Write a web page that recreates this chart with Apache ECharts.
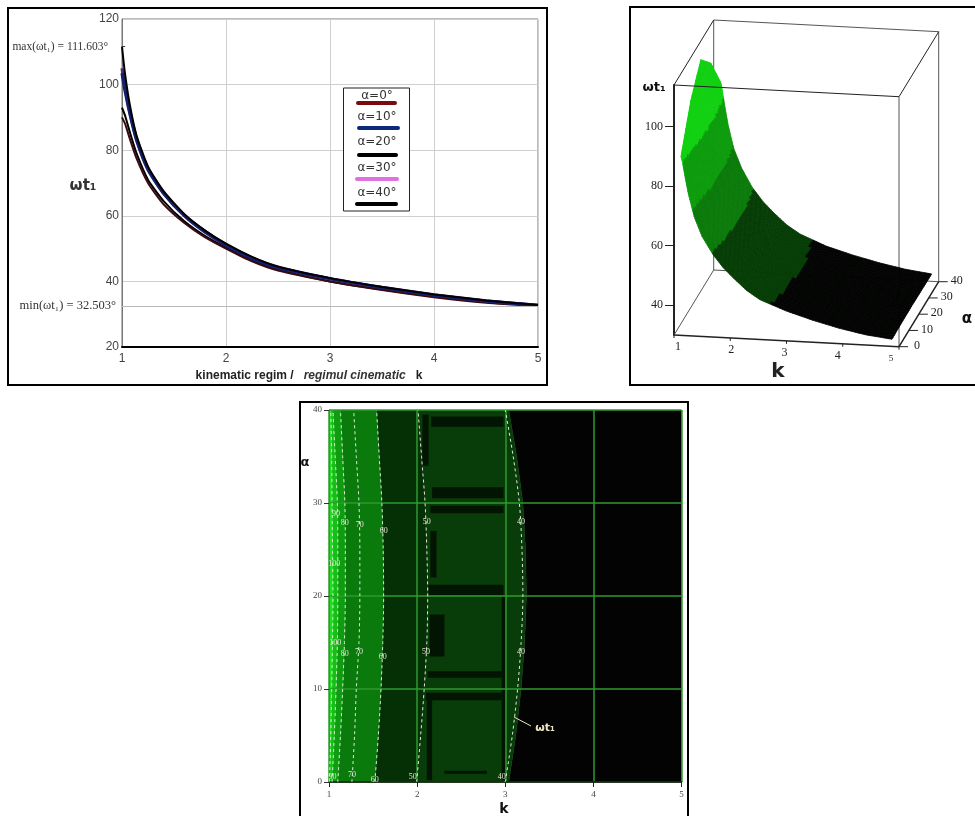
<!DOCTYPE html>
<html><head><meta charset="utf-8">
<style>html,body{margin:0;padding:0;background:#fff}#c{width:975px;height:816px}</style>
<script src="https://cdn.jsdelivr.net/npm/echarts@6/dist/echarts.min.js"></script>
</head><body><div id="c"></div>
<script>
// ---- data ----
const kValues  = [1,1.03,1.08,1.14,1.25,1.4,1.6,1.8,2,2.25,2.5,3,3.5,4,4.5,5];
const alpha0   = [90,88,83,77.5,70,63.5,57.8,53.4,50,46.1,43.3,40,37.4,35.2,33.5,32.5];
const alpha10  = [103.5,98,90.5,83,74,66.8,60,55,51,47,44.2,40.8,38.1,35.8,34,32.7];
const alpha20  = [111.6,103,93,84.5,75,67.5,60.5,55.5,51.5,47.5,44.5,41,38.3,36,34.2,32.8];
const alpha30  = [105,99,91,83.5,74.5,67,60.2,55.2,51.2,47.2,44.4,40.9,38.2,35.9,34.1,32.7];
const alpha40  = [93,90.5,85,79,71,64.5,58.3,53.8,50.3,46.4,43.6,40,37.5,35.4,33.7,32.6];
const curveNames  = ['α=0°','α=10°','α=20°','α=30°','α=40°'];
const curveColors = ['#7a0a10','#0c2a78','#000000','#e070e0','#000000'];
const maxValue = 111.603, minValue = 32.503;
const kTicks3d = [1,2,3,4,5], alphaTicks3d = [0,10,20,30,40], omegaTicks3d = [40,60,80,100];

const contourAlpha = [0,5,10,15,20,25,30,35,40];
const contour40  = [3.0,3.08,3.14,3.18,3.2,3.19,3.16,3.09,3.0];
const contour50  = [1.995,2.04,2.08,2.11,2.12,2.11,2.09,2.05,2.01];
const contour60  = [1.52,1.56,1.59,1.61,1.62,1.615,1.6,1.57,1.54];
const contour70  = [1.26,1.29,1.31,1.34,1.35,1.35,1.34,1.31,1.28];
const contour80  = [1.1,1.13,1.155,1.175,1.185,1.185,1.18,1.155,1.13];
const contour90  = [1.035,1.06,1.08,1.095,1.1,1.1,1.095,1.07,1.045];
const contour100 = [1.005,1.02,1.03,1.04,1.045,1.04,1.035,1.03,1.02];
const contourLabels = [
 [1.08,28.8,'90'],[1.18,27.9,'80'],[1.35,27.6,'70'],[1.62,27,'60'],[2.11,28,'50'],[3.18,28,'40'],
 [1.06,23.5,'100'],[1.07,15,'100'],[1.18,13.8,'80'],[1.34,14,'70'],[1.61,13.5,'60'],[2.1,14,'50'],[3.18,14,'40'],
 [1.04,0.6,'90'],[1.26,0.8,'70'],[1.52,0.2,'60'],[1.95,0.6,'50'],[2.96,0.6,'40']
];
const darkPatches = [
 [2.16,2.98,38.2,39.3],[2.17,2.98,30.5,31.7],[2.15,2.98,28.9,29.7],[2.13,2.98,20.1,21.2],
 [2.14,2.31,13.5,18],[2.12,2.96,11.2,11.9],[2.1,2.96,8.8,9.6],[2.31,2.79,0.9,1.2],
 [2.11,2.17,0.2,8.8],[2.06,2.13,34,39.5],[2.15,2.22,22,27],[2.96,3.0,0.2,20]
];

// ---- styles ----
const SANS='Liberation Sans', SERIF='Liberation Serif', DJ='DejaVu Sans';
const F=(s,fam)=>s+' "'+fam+'"';
function bandColor3d(w){ return w>88?'#12d012':w>72?'#0c9c0c':w>58?'#0a7a0a':w>42?'#053c05':'#020402'; }
const bandList = [
 {l:contour40,r:null,c:'#020302'},
 {l:contour50,r:contour40,c:'#083c08'},
 {l:contour60,r:contour50,c:'#053005'},
 {l:contour80,r:contour60,c:'#0a7a0c'},
 {l:contour90,r:contour80,c:'#0f9c10'},
 {l:contour100,r:contour90,c:'#16bf16'},
 {l:null,r:contour100,c:'#22dc22'}
];

function pBox(api,k,a,w){
  const c=api.coord([k,w]), t=a/40;
  return [c[0]+t*39.7, c[1]+(k-1)*2.925-t*65];
}
function pSurf(api,k,a,w){
  const p=pBox(api,k,a,w);
  return [p[0]+7-3.5*(k-1), p[1]];
}
function lineEl(a,b,stroke,width){
  return {type:'line',shape:{x1:a[0],y1:a[1],x2:b[0],y2:b[1]},style:{stroke,lineWidth:width}};
}
function textEl(x,y,text,font,fill,align){
  return {type:'text',style:{x,y,text,font,fill:fill||'#222',align:align||'center',verticalAlign:'middle'}};
}
const W0=30,W1=114;
function renderBack(params,api){
  const P=(k,a,w)=>pBox(api,k,a,w), ch=[], col='#555';
  ch.push(lineEl(P(1,40,W0),P(1,40,W1),col,1));
  ch.push(lineEl(P(1,40,W1),P(5,40,W1),col,1));
  ch.push(lineEl(P(5,40,W0),P(5,40,W1),col,1));
  ch.push(lineEl(P(1,0,W0),P(1,40,W0),col,1));
  ch.push(lineEl(P(1,40,W0),P(5,40,W0),col,1));
  ch.push(lineEl(P(5,0,W0),P(5,0,W1),col,1));
  return {type:'group',children:ch};
}
function renderFront(params,api){
  const P=(k,a,w)=>pBox(api,k,a,w), ch=[], col='#222';
  ch.push(lineEl(P(1,0,W0),P(5,0,W0),col,1.5));
  ch.push(lineEl(P(1,0,W1),P(5,0,W1),col,1));
  ch.push(lineEl(P(1,0,W1),P(1,40,W1),col,1));
  ch.push(lineEl(P(5,0,W1),P(5,40,W1),col,1));
  ch.push(lineEl(P(5,0,W0),P(5,40,W0),col,1.5));
  kTicks3d.forEach(k=>{
    const p=P(k,0,W0);
    ch.push(lineEl(p,[p[0],p[1]+3],col,1));
    ch.push(textEl(p[0]+4-3*(k-1),p[1]+12,String(k),k===5?F('9px',SERIF):F('12px',SERIF),'#222'));
  });
  alphaTicks3d.forEach(a=>{
    const p=P(5,a,W0);
    ch.push(lineEl(p,[p[0]+9,p[1]],col,1));
    ch.push(textEl(p[0]+18,p[1]-1,String(a),F('12px',SERIF),'#222'));
  });
  return {type:'group',children:ch};
}
const rows3d=[alpha40,alpha30,alpha20,alpha10,alpha0];
const rowA3d=[40,30,20,10,0];
const cells=[];
rows3d.forEach((r,j)=>{ if(j<rows3d.length-1) kValues.forEach((k,i)=>{ if(i<kValues.length-1) cells.push([k,rowA3d[j],r[i],j,i]); }); });
function renderCell(params,api){
  const j=api.value(3), i=api.value(4), n=8, ch=[];
  const k0=kValues[i],k1=kValues[i+1],a0=rowA3d[j],a1=rowA3d[j+1];
  const R0=rows3d[j],R1=rows3d[j+1];
  const W=(u,v)=>(R0[i]*(1-u)+R0[i+1]*u)*(1-v)+(R1[i]*(1-u)+R1[i+1]*u)*v;
  const Q=(u,v)=>pSurf(api,k0+(k1-k0)*u,a0+(a1-a0)*v,W(u,v));
  for(let b=0;b<n;b++)for(let a=0;a<n;a++){
    const u0=a/n,u1=(a+1)/n,v0=b/n,v1=(b+1)/n;
    const c=bandColor3d(W((u0+u1)/2,(v0+v1)/2));
    ch.push({type:'polygon',shape:{points:[Q(u0,v0),Q(u1,v0),Q(u1,v1),Q(u0,v1)]},style:{fill:c,stroke:c,lineWidth:0.8}});
  }
  return {type:'group',children:ch};
}
function renderBand(params,api){
  const b=bandList[params.dataIndex], pts=[];
  const left=(i)=> b.l===contour40 ? contour40[i]+0.04 : (b.l? b.l[i] : 1);
  const right=(i)=> b.l===contour40 ? 5 : (b.r===contour40 ? contour40[i]+0.04 : b.r[i]);
  contourAlpha.forEach((a,i)=>pts.push(api.coord([left(i),a])));
  for(let i=contourAlpha.length-1;i>=0;i--) pts.push(api.coord([right(i),contourAlpha[i]]));
  return {type:'polygon',shape:{points:pts},style:{fill:b.c,stroke:b.c,lineWidth:0.5}};
}
function renderPatch(params,api){
  const a=api.coord([api.value(0),api.value(3)]), b=api.coord([api.value(1),api.value(2)]);
  return {type:'rect',shape:{x:a[0],y:a[1],width:b[0]-a[0],height:b[1]-a[1]},style:{fill:'#021502'}};
}
function renderLabel(params,api){
  const p=api.coord([api.value(0),api.value(1)]);
  return textEl(p[0],p[1],contourLabels[params.dataIndex][2],F('8px',SERIF),'#e4e4d4');
}
function contourSeries(arr,name){
  return {type:'line',name,xAxisIndex:2,yAxisIndex:2,data:arr.map((k,i)=>[k,contourAlpha[i]]),smooth:0.3,showSymbol:false,silent:true,z:6,clip:true,
    lineStyle:{color:'#dfe8d8',width:1,type:[3,3]}};
}

const curves=[alpha0,alpha10,alpha20,alpha30,alpha40];
const lineColors=['#3a0a10','#14206e','#000000','#5a2a7a','#000000'];
const lineWidths=[2,3.2,2,3.2,2];
const drawOrder=[4,0,3,1,2];
const series=[];
drawOrder.forEach(idx=>{
  series.push({type:'line',name:curveNames[idx],xAxisIndex:0,yAxisIndex:0,
    data:kValues.map((k,i)=>[k,curves[idx][i]]),smooth:0.2,showSymbol:false,silent:true,z:3,
    lineStyle:{color:lineColors[idx],width:lineWidths[idx]}});
});
series.push({type:'line',name:'limits',xAxisIndex:0,yAxisIndex:0,data:[],silent:true,
  markLine:{silent:true,symbol:'none',animation:false,precision:3,data:[
    [{coord:[1,minValue],lineStyle:{color:'#b8b8b8',width:1,type:'solid'},label:{show:true,position:'start',distance:6,formatter:'min(ωt₁) = 32.503°',fontFamily:SERIF,fontSize:12.5,color:'#333'}},{coord:[5,minValue]}],
    [{coord:[1,maxValue],lineStyle:{color:'#333',width:1,type:'solid'},label:{show:true,position:'start',distance:14,formatter:'max(ωt₁) = 111.603°',fontFamily:SERIF,fontSize:11.5,color:'#333'}},{coord:[1.03,maxValue]}]
  ]}});
series.push({type:'custom',name:'box back',xAxisIndex:1,yAxisIndex:1,data:[[1,30]],renderItem:renderBack,clip:false,silent:true,z:2});
series.push({type:'custom',name:'surface',xAxisIndex:1,yAxisIndex:1,data:cells,renderItem:renderCell,clip:false,silent:true,z:3,dimensions:['k','a','w','j','i'],encode:{x:0,y:2}});
series.push({type:'custom',name:'box front',xAxisIndex:1,yAxisIndex:1,data:[[1,30]],renderItem:renderFront,clip:false,silent:true,z:4});
series.push({type:'custom',name:'bands',xAxisIndex:2,yAxisIndex:2,data:bandList.map((b,i)=>[i,0]),renderItem:renderBand,clip:true,silent:true,z:1,encode:{x:0,y:1}});
series.push({type:'custom',name:'patches',xAxisIndex:2,yAxisIndex:2,data:darkPatches,renderItem:renderPatch,clip:true,silent:true,z:2,encode:{x:[0,1],y:[2,3]}});
[contour40,contour50,contour60,contour70,contour80,contour90,contour100].forEach((c,i)=>series.push(contourSeries(c,'contour'+(40+i*10))));
series.push({type:'custom',name:'contour labels',xAxisIndex:2,yAxisIndex:2,data:contourLabels.map(l=>[l[0],l[1]]),renderItem:renderLabel,clip:false,silent:true,z:7,encode:{x:0,y:1}});

const g=[];
function frame(x,y,w,h){g.push({type:'rect',shape:{x,y,width:w,height:h},style:{fill:'none',stroke:'#000',lineWidth:2},z:50,silent:true});}
frame(8,8,539,377); frame(630,7,360,378); frame(300,402,388,430);
g.push({type:'rect',shape:{x:343.5,y:88,width:66,height:123},style:{fill:'#fff',stroke:'#222',lineWidth:1},z:60});
const legTextY=[96,117,142,168,193], legLineY=[103,128,155,179,204], legX0=[358,359,359,357,357], legX1=[395,398,396,397,396];
curveNames.forEach((n,i)=>{
  g.push({type:'text',style:{x:377,y:legTextY[i],text:n,font:F('12px',DJ),fill:'#333',align:'center',verticalAlign:'middle'},z:61});
  g.push({type:'line',shape:{x1:legX0[i],y1:legLineY[i],x2:legX1[i],y2:legLineY[i]},style:{stroke:curveColors[i],lineWidth:4,lineCap:'round'},z:61});
});
function label(x,y,text,font,fill){g.push({type:'text',style:{x,y,text,font,fill:fill||'#222',align:'center',verticalAlign:'middle'},z:62});}
label(83,186,'ωt₁',F('bold 15px',DJ),'#333');
label(654,88,'ωt₁',F('bold 13px',DJ),'#111');
label(778,372,'k',F('bold 20px',DJ),'#222');
label(967,319,'α',F('bold 15px',DJ),'#111');
label(305,463,'α',F('bold 13px',DJ),'#111');
label(504,809,'k',F('bold 14px',DJ),'#111');
label(545,728,'ωt₁',F('bold 11px',DJ),'#ece6c0');
g.push({type:'line',shape:{x1:514,y1:717,x2:531,y2:726},style:{stroke:'#ece6c0',lineWidth:1},z:62});

const option={
  animation:false,
  backgroundColor:'#fff',
  grid:[
    {left:122,top:19,width:416,height:328,show:true,borderColor:'#777',borderWidth:1,backgroundColor:'transparent'},
    {left:674,top:85,width:225,height:250},
    {left:329,top:410,width:352.5,height:372}
  ],
  xAxis:[
    {type:'value',gridIndex:0,min:1,max:5,interval:1,axisLine:{show:true,lineStyle:{color:'#000',width:2}},axisTick:{show:false},
     splitLine:{show:true,lineStyle:{color:'#cfcfcf',width:1}},axisLabel:{color:'#444',fontFamily:SANS,fontSize:12,margin:6},
     name:'{b|kinematic regim /}   {i|regimul cinematic}   {b|k}',nameLocation:'middle',nameGap:23,
     nameTextStyle:{padding:[0,42,0,0],rich:{b:{fontFamily:SANS,fontSize:12,fontWeight:'bold',color:'#222'},i:{fontFamily:SANS,fontSize:12,fontStyle:'italic',fontWeight:'bold',color:'#333'}}}},
    {type:'value',gridIndex:1,min:1,max:5,show:false},
    {type:'value',gridIndex:2,min:1,max:5,interval:1,z:5,axisLine:{show:true,lineStyle:{color:'#111',width:1.5}},
     axisTick:{show:true,length:5,lineStyle:{color:'#222'}},splitLine:{show:true,lineStyle:{color:'#2e9a2e',width:1.5}},
     axisLabel:{color:'#444',fontFamily:SERIF,fontSize:9,margin:8}}
  ],
  yAxis:[
    {type:'value',gridIndex:0,min:20,max:120,interval:20,axisLine:{show:true,lineStyle:{color:'#777',width:1}},axisTick:{show:false},
     splitLine:{show:true,lineStyle:{color:'#cfcfcf',width:1}},axisLabel:{color:'#444',fontFamily:SANS,fontSize:12,margin:3}},
    {type:'value',gridIndex:1,min:30,max:114,axisLine:{show:true,onZero:false,lineStyle:{color:'#222',width:2}},
     axisTick:{show:true,length:9,customValues:omegaTicks3d,lineStyle:{color:'#222'}},
     axisLabel:{customValues:omegaTicks3d,color:'#222',fontFamily:SERIF,fontSize:12,margin:11},splitLine:{show:false}},
    {type:'value',gridIndex:2,min:0,max:40,interval:10,z:5,axisLine:{show:true,lineStyle:{color:'#2e9a2e',width:1}},
     axisTick:{show:true,length:5,lineStyle:{color:'#333'}},splitLine:{show:true,lineStyle:{color:'#2e9a2e',width:1.5}},
     axisLabel:{color:'#444',fontFamily:SERIF,fontSize:9,margin:7}}
  ],
  series,
  graphic:{elements:g}
};
echarts.init(document.getElementById('c'),null,{renderer:'canvas'}).setOption(option);
</script></body></html>
